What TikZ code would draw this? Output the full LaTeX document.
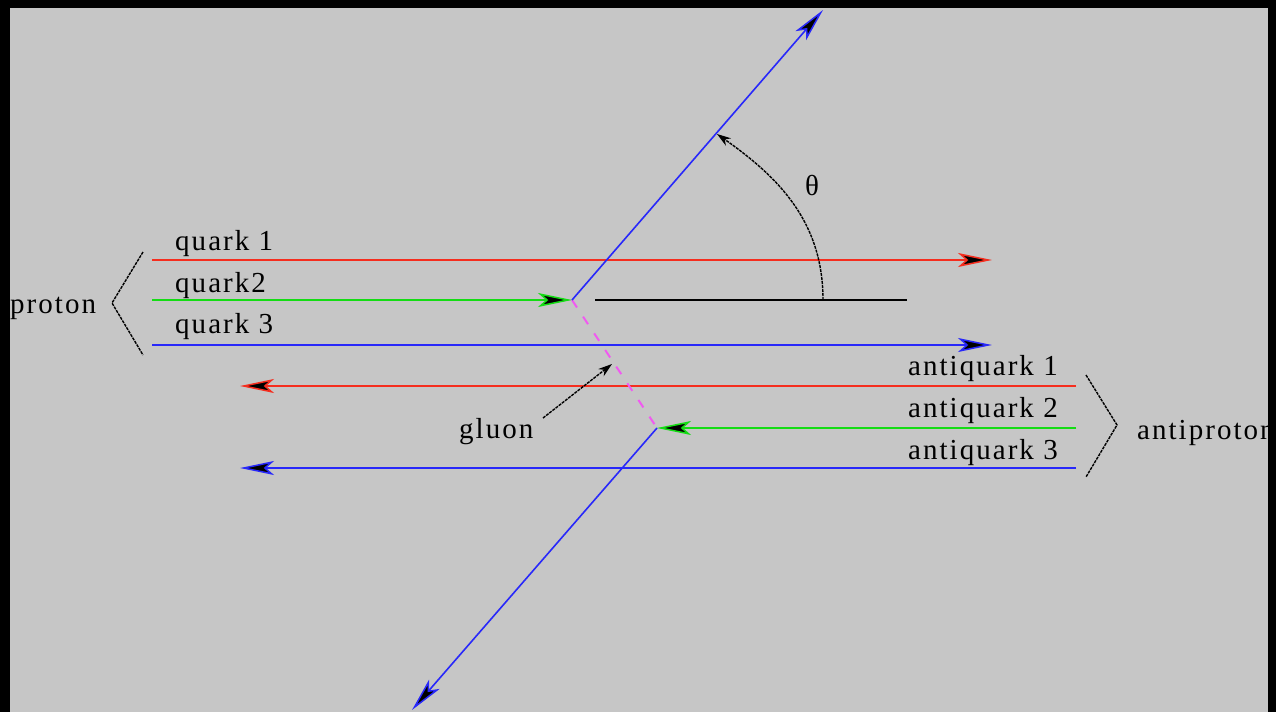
\documentclass[tikz,border=0pt]{standalone}
\usepackage{fontspec}
\setmainfont{Liberation Serif}[LetterSpace=7]
\usetikzlibrary{arrows.meta}
\definecolor{bg}{RGB}{198,198,198}
\definecolor{qred}{RGB}{245,45,30}
\definecolor{qgreen}{RGB}{20,220,20}
\definecolor{qblue}{RGB}{40,40,250}
\definecolor{qmag}{RGB}{240,90,240}
\tikzset{
  qline/.style={line width=2pt},
  qarrow/.style={qline,-{Stealth[length=34pt,width=14pt,inset=8pt,fill=black,line width=1.5pt]}},
  lbl/.style={anchor=base west,inner sep=0pt,font=\fontsize{29}{32}\selectfont},
  brack/.style={black,line width=1.4pt,dash pattern=on 3pt off 1pt},
}
\begin{document}
\begin{tikzpicture}[x=1pt,y=-1pt]
\useasboundingbox (0,0) rectangle (1276,712);
\fill[bg] (0,0) rectangle (1276,712);
\begin{scope}
\clip (10,8) rectangle (1268,712);
% coordinates
\coordinate (q1s) at (152,260); \coordinate (q1e) at (992,260);
\coordinate (q2s) at (152,300); \coordinate (v1) at (572,300);
\coordinate (q3s) at (152,345); \coordinate (q3e) at (992,345);
\coordinate (a1s) at (1076,386); \coordinate (a1e) at (240,386);
\coordinate (a2s) at (1076,428); \coordinate (v2) at (657,428);
\coordinate (a3s) at (1076,468); \coordinate (a3e) at (240,468);
\coordinate (top) at (823,10);
\coordinate (bot) at (412,710);
\coordinate (hs) at (595,300); \coordinate (he) at (907,300);
\coordinate (arcS) at (823,300); \coordinate (arcE) at (717,134);
% lines
\draw[qarrow,qred] (q1s) -- (q1e);
\draw[qarrow,qgreen] (q2s) -- (v1);
\draw[qarrow,qblue] (q3s) -- (q3e);
\draw[qarrow,qred] (a1s) -- (a1e);
\draw[qarrow,qgreen] (a2s) -- (v2);
\draw[qarrow,qblue] (a3s) -- (a3e);
\draw[qmag,line width=2pt,dash pattern=on 9pt off 11pt] (v1) -- (v2);
\draw[qarrow,qblue,line width=1.6pt] (v1) -- (top);
\draw[qarrow,qblue,line width=1.6pt] (v2) -- (bot);
\draw[black,line width=1.6pt] (hs) -- (he);
\draw[brack,-{Stealth[length=14pt,width=9pt,fill=black]}] (arcS) to[out=90,in=-35] (arcE);
% brackets
\coordinate (pb1) at (143,252); \coordinate (pb2) at (112,303); \coordinate (pb3) at (143,355);
\draw[brack] (pb1) -- (pb2) -- (pb3);
\coordinate (ab1) at (1086,375); \coordinate (ab2) at (1117,425); \coordinate (ab3) at (1086,477);
\draw[brack] (ab1) -- (ab2) -- (ab3);
% labels
\node[lbl] (lq1) at (175,250) {quark 1};
\node[lbl] (lq2) at (175,292) {quark2};
\node[lbl] (lq3) at (175,333) {quark 3};
\node[lbl] (lp) at (10,313) {proton};
\node[lbl] (la1) at (908,375) {antiquark 1};
\node[lbl] (la2) at (908,417) {antiquark 2};
\node[lbl] (la3) at (908,459) {antiquark 3};
\node[lbl] (lap) at (1137,439) {antiproton};
\node[lbl] (lg) at (459,438) {gluon};
\node[inner sep=0pt,font=\fontsize{29}{32}\selectfont] (th) at (812,186) {θ};
\coordinate (gp) at (543,418); \coordinate (gq) at (612,364);
\draw[brack,-{Stealth[length=14pt,width=9pt,fill=black]}] (gp) -- (gq);
\end{scope}
% border
\fill[black] (0,0) rectangle (1276,8);
\fill[black] (0,0) rectangle (10,712);
\fill[black] (1268,0) rectangle (1276,712);
\end{tikzpicture}
\end{document}
